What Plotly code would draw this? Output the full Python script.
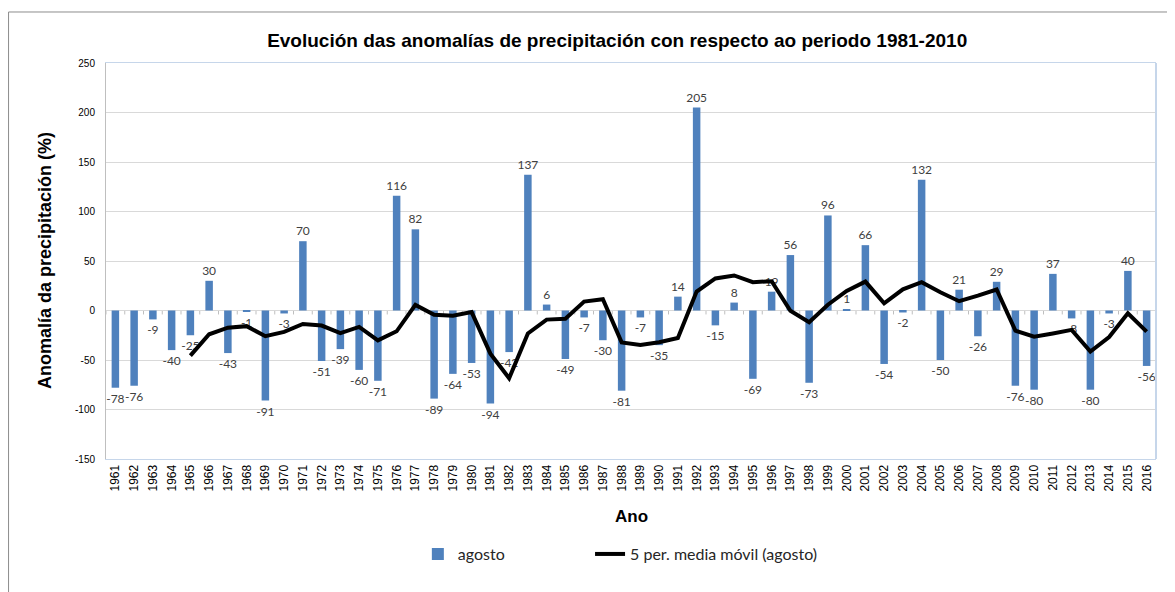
import plotly.graph_objects as go

years = list(range(1961, 2017))
agosto = [-78, -76, -9, -40, -25, 30, -43, -1, -91, -3,
          70, -51, -39, -60, -71, 116, 82, -89, -64, -53,
          -94, -42, 137, 6, -49, -7, -30, -81, -7, -35,
          14, 205, -15, 8, -69, 19, 56, -73, 96, 1,
          66, -54, -2, 132, -50, 21, -26, 29, -76, -80,
          37, -8, -80, -3, 40, -56]
media_movil = [None, None, None, None, -45.6, -24.0, -17.4, -15.8, -26.0, -21.6,
               -13.6, -15.2, -22.8, -16.6, -30.2, -21.0, 5.6, -4.4, -5.2, -1.6,
               -43.6, -68.4, -23.2, -9.2, -8.4, 9.0, 11.4, -32.2, -34.8, -32.0,
               -27.8, 19.2, 32.4, 35.4, 28.6, 29.6, -0.2, -11.8, 5.8, 19.8,
               29.2, 7.2, 21.4, 28.6, 18.4, 9.4, 15.0, 21.2, -20.4, -26.4,
               -23.2, -19.6, -41.4, -26.8, -2.8, -21.4]
y_ticks = [-150, -100, -50, 0, 50, 100, 150, 200, 250]

fig = go.Figure()
fig.add_trace(go.Bar(
    x=years, y=agosto, name="agosto", width=0.4, legend="legend",
    marker=dict(color="#4F81BD", line=dict(width=0)),
    text=[str(v) for v in agosto], textposition="outside", constraintext="none",
    textfont=dict(family="Lato, Carlito, sans-serif", size=12, color="#404040"),
    cliponaxis=False,
))
fig.add_trace(go.Scatter(
    x=years, y=media_movil, name="5 per. media móvil (agosto)", mode="lines", legend="legend2",
    line=dict(color="black", width=4), connectgaps=False,
))

# small tick marks on the zero line
shapes = []
for y in years:
    shapes.append(dict(type="line", xref="x", yref="y", x0=y - 0.5, x1=y - 0.5,
                       y0=0, y1=-4, line=dict(color="#BFBFBF", width=1), layer="below"))
shapes.append(dict(type="line", xref="paper", yref="y", x0=0, x1=1, y0=0, y1=0,
                   line=dict(color="#BFBFBF", width=1), layer="below"))
# right edge of plot area
shapes.append(dict(type="line", xref="paper", yref="paper", x0=1, x1=1, y0=0, y1=1,
                   line=dict(color="#C6D6EA", width=2)))
# outer chart border (top and left visible)
shapes.append(dict(type="rect", xref="paper", yref="paper",
                   x0=-0.0928, x1=1.2, y0=-0.6, y1=1.1288,
                   line=dict(color="#8C8C8C", width=1), fillcolor="rgba(0,0,0,0)"))

legend_font = dict(family="Lato, Carlito, sans-serif", size=16, color="#262626")
fig.update_layout(
    width=1167, height=584,
    margin=dict(l=98, r=19, t=55, b=133),
    paper_bgcolor="white", plot_bgcolor="white",
    font=dict(family="Liberation Sans, Arial, sans-serif", color="black"),
    title=dict(text="<b>Evolución das anomalías de precipitación con respecto ao periodo 1981-2010</b>",
               x=0.522, xanchor="center", y=0.945, yanchor="middle",
               font=dict(size=19, family="Liberation Sans, Arial, sans-serif", color="black")),
    showlegend=True,
    legend=dict(orientation="h", x=0.297, xanchor="left", y=-0.24, yanchor="middle",
                font=legend_font, bgcolor="rgba(0,0,0,0)"),
    legend2=dict(orientation="h", x=0.461, xanchor="left", y=-0.24, yanchor="middle",
                 font=legend_font, bgcolor="rgba(0,0,0,0)"),
    shapes=shapes,
    annotations=[
        dict(text="<b>Anomalía da precipitación (%)</b>", xref="paper", yref="paper",
             x=-0.058, y=0.5, textangle=-90, showarrow=False, xanchor="center", yanchor="middle",
             font=dict(size=18, family="Liberation Sans, Arial, sans-serif", color="black")),
        dict(text="<b>Ano</b>", xref="paper", yref="paper", x=0.5, y=-0.146,
             showarrow=False, xanchor="center", yanchor="middle",
             font=dict(size=17, family="Liberation Sans, Arial, sans-serif", color="black")),
    ],
)
fig.update_xaxes(
    range=[1960.5, 2016.5], tickmode="array", tickvals=years, ticktext=[str(y) for y in years],
    tickangle=-90, tickfont=dict(size=12, family="Liberation Sans, Arial, sans-serif", color="black"),
    showgrid=False, zeroline=False, showline=True, linecolor="#C6D6EA", linewidth=1, mirror=True,
    ticks="", ticklen=0,
)
fig.update_yaxes(
    range=[-150, 250], tickvals=y_ticks, ticktext=[str(v) for v in y_ticks],
    tickfont=dict(size=10, family="Liberation Sans, Arial, sans-serif", color="black"),
    showgrid=True, gridcolor="#D9D9D9", gridwidth=1, zeroline=False,
    showline=True, linecolor="#BFBFBF", linewidth=1, ticks="", ticklabelstandoff=8,
)

fig.write_html("out.html")
